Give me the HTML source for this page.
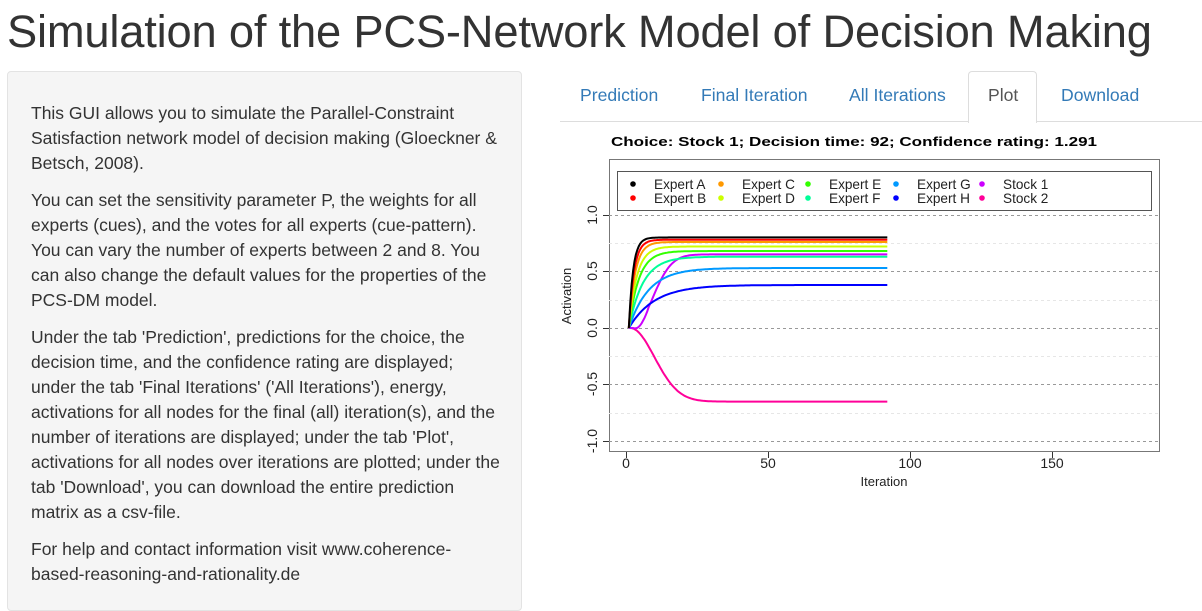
<!DOCTYPE html>
<html><head><meta charset="utf-8"><style>
body{margin:0;width:1202px;height:586px;overflow:hidden;background:#fff;font-family:"Liberation Sans",Arial,sans-serif;position:relative}
h1{position:absolute;left:7px;top:6px;margin:0;font-weight:400;font-size:45.3px;color:#333;white-space:nowrap;letter-spacing:-0.2px}
.well{position:absolute;left:7px;top:71px;width:515px;height:540px;background:#f5f5f5;border:1px solid #e3e3e3;border-radius:4px;box-sizing:border-box}
.well p{margin:0 0 12px 0;font-size:17.5px;line-height:25px;color:#333}
.wt{position:absolute;left:23px;top:29px;width:469px}
.tabs{position:absolute;left:560px;top:121px;width:642px;border-top:1px solid #ddd}
.tab{position:absolute;top:85px;font-size:17.6px;color:#337ab7}
.active{position:absolute;left:968px;top:71px;width:69px;height:52px;border:1px solid #ddd;border-bottom:none;border-radius:4px 4px 0 0;background:#fff;box-sizing:border-box}
</style></head><body>
<h1>Simulation of the PCS-Network Model of Decision Making</h1>
<div class="well"><div class="wt">
<p>This GUI allows you to simulate the Parallel-Constraint Satisfaction network model of decision making (Gloeckner &amp; Betsch, 2008).</p>
<p>You can set the sensitivity parameter P, the weights for all experts (cues), and the votes for all experts (cue-pattern). You can vary the number of experts between 2 and 8. You can also change the default values for the properties of the PCS-DM model.</p>
<p>Under the tab 'Prediction', predictions for the choice, the decision time, and the confidence rating are displayed; under the tab 'Final Iterations' ('All Iterations'), energy, activations for all nodes for the final (all) iteration(s), and the number of iterations are displayed; under the tab 'Plot', activations for all nodes over iterations are plotted; under the tab 'Download', you can download the entire prediction matrix as a csv-file.</p>
<p>For help and contact information visit www.coherence-based-reasoning-and-rationality.de</p>
</div></div>
<div class="tabs"></div>
<div class="active"></div>
<div class="tab" style="left:580px">Prediction</div>
<div class="tab" style="left:701px">Final Iteration</div>
<div class="tab" style="left:849px">All Iterations</div>
<div class="tab" style="left:988px;color:#555">Plot</div>
<div class="tab" style="left:1061px">Download</div>
<svg id="p" width="1202" height="586" style="position:absolute;left:0;top:0" font-family="Liberation Sans,Arial,sans-serif">
<text x="611" y="146" font-size="13" font-weight="bold" textLength="486" lengthAdjust="spacingAndGlyphs">Choice: Stock 1; Decision time: 92; Confidence rating: 1.291</text>
<rect x="609.5" y="159.5" width="550" height="292" fill="none" stroke="#777"/>
<g stroke="#999" stroke-dasharray="3,3" stroke-width="1">
<line x1="609" x2="1160" y1="215.5" y2="215.5"/><line x1="609" x2="1160" y1="271.5" y2="271.5"/><line x1="609" x2="1160" y1="328.5" y2="328.5"/><line x1="609" x2="1160" y1="384.5" y2="384.5"/><line x1="609" x2="1160" y1="441.5" y2="441.5"/>
</g>
<g stroke="#e6e6e6" stroke-dasharray="3,3">
<line x1="609" x2="1160" y1="243.5" y2="243.5"/><line x1="609" x2="1160" y1="300.5" y2="300.5"/><line x1="609" x2="1160" y1="356.5" y2="356.5"/><line x1="609" x2="1160" y1="413.5" y2="413.5"/>
</g>
<g stroke="#333"><line x1="603" x2="609" y1="215.5" y2="215.5"/><line x1="603" x2="609" y1="271.5" y2="271.5"/><line x1="603" x2="609" y1="328.5" y2="328.5"/><line x1="603" x2="609" y1="384.5" y2="384.5"/><line x1="603" x2="609" y1="441.5" y2="441.5"/>
<line x1="626.5" x2="626.5" y1="452" y2="458"/><line x1="768.5" x2="768.5" y1="452" y2="458"/><line x1="910.5" x2="910.5" y1="452" y2="458"/><line x1="1052.5" x2="1052.5" y1="452" y2="458"/></g>
<g font-size="14" text-anchor="middle" fill="#222">
<text x="626" y="468">0</text><text x="768" y="468">50</text><text x="910" y="468">100</text><text x="1052" y="468">150</text>
<text transform="translate(597,215) rotate(-90)">1.0</text><text transform="translate(597,271) rotate(-90)">0.5</text><text transform="translate(597,328) rotate(-90)">0.0</text><text transform="translate(597,384) rotate(-90)">-0.5</text><text transform="translate(597,441) rotate(-90)">-1.0</text>
<text x="884" y="486" font-size="13">Iteration</text>
<text transform="translate(571,296) rotate(-90)" font-size="13">Activation</text>
</g>
<rect x="617.5" y="171.5" width="534" height="39" fill="#fff" stroke="#555"/>
<g font-size="13.6" fill="#222" id="leg"></g>
<g id="lines" fill="none" stroke-width="2"></g>
</svg>
<script>
var items=[["Expert A","#000000",0.80,1.5],["Expert B","#FF0000",0.78,1.8],["Expert C","#FF9900",0.76,2.2],["Expert D","#CCFF00",0.72,2.8],["Expert E","#33FF00",0.68,3.5],["Expert F","#00FF99",0.63,5],["Expert G","#0099FF",0.53,7],["Expert H","#0000FF",0.38,9],["Stock 1","#CC00FF",0.65,0],["Stock 2","#FF0099",-0.65,0]];
var NS="http://www.w3.org/2000/svg",L=document.getElementById("lines"),G=document.getElementById("leg");
var lx=[633,721,808,896,982];
items.forEach(function(it,k){
 var col=Math.floor(k/2),row=k%2;
 var c=document.createElementNS(NS,"circle");c.setAttribute("cx",lx[col]);c.setAttribute("cy",184+row*14);c.setAttribute("r",2.8);c.setAttribute("fill",it[1]);G.appendChild(c);
 var t=document.createElementNS(NS,"text");t.setAttribute("x",lx[col]+21);t.setAttribute("y",189+row*14);t.textContent=it[0];G.appendChild(t);
});
for(var k=items.length-1;k>=0;k--){var it=items[k];var pts=[];
 for(var i=1;i<=92;i+=0.5){var v;
  if(k<8)v=it[2]*(1-Math.exp(-(i-1)/it[3]));
  else if(k==8){var d=Math.max(i-2.5,0);v=0.65*(1-Math.exp(-Math.pow(d/9.5,2)))-0.02*Math.sin(Math.min(d,6)/6*Math.PI)*(i<8?1:0);}
  else{var d=Math.max(i-1.5,0);v=-0.65*(1-Math.exp(-Math.pow(d/12,2)));}
  pts.push((626+2.84*i).toFixed(1)+","+(328-113.2*v).toFixed(1));}
 var p=document.createElementNS(NS,"polyline");p.setAttribute("points",pts.join(" "));p.setAttribute("stroke",it[1]);L.appendChild(p);}
</script>
</body></html>
